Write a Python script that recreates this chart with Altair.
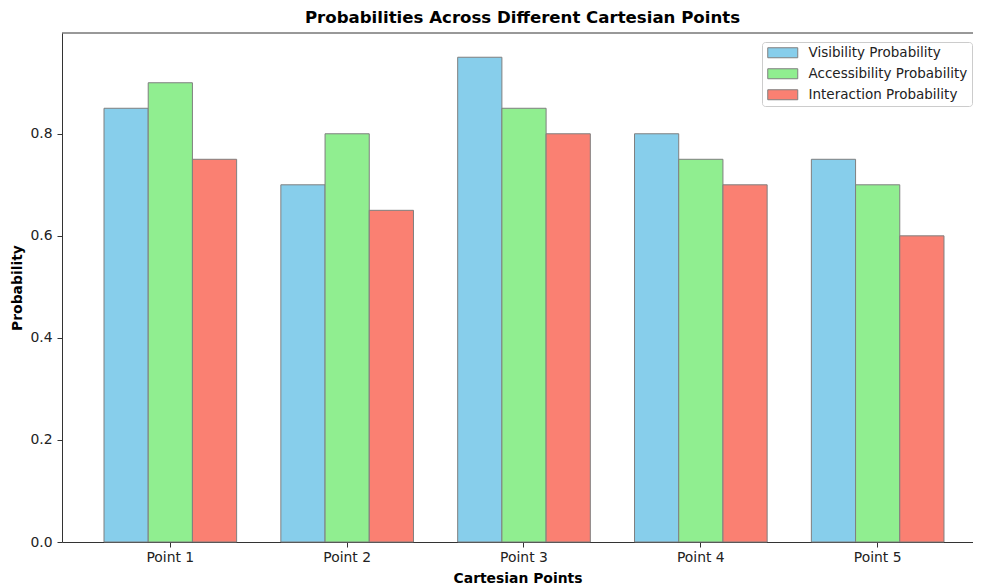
import altair as alt
import pandas as pd

points = ["Point 1", "Point 2", "Point 3", "Point 4", "Point 5"]
series = ["Visibility Probability", "Accessibility Probability", "Interaction Probability"]
visibility = [0.85, 0.70, 0.95, 0.80, 0.75]
accessibility = [0.90, 0.80, 0.85, 0.75, 0.70]
interaction = [0.75, 0.65, 0.80, 0.70, 0.60]
colors = ["#87CEEB", "#90EE90", "#FA8072"]
y_ticks = [0.0, 0.2, 0.4, 0.6, 0.8]

rows = []
for name, vals in zip(series, [visibility, accessibility, interaction]):
    for p, v in zip(points, vals):
        rows.append({"point": p, "series": name, "value": v})
df = pd.DataFrame(rows)

W, H = 911, 509
FONT = "DejaVu Sans"
LBL = 13.9

bars = alt.Chart(df).mark_bar(stroke="#7f7f7f", strokeWidth=1, opacity=1).encode(
    x=alt.X(
        "point:N",
        sort=points,
        scale=alt.Scale(paddingInner=0.25, paddingOuter=0.2008, align=0.5915),
        axis=alt.Axis(
            title="Cartesian Points", labelAngle=0, labelFont=FONT, labelFontSize=LBL,
            labelColor="#222", tickSize=5, tickColor="#333", domainColor="#333",
            labelPadding=3, titleFont=FONT, titleFontSize=LBL, titleFontWeight="bold",
            titleColor="black", titlePadding=8, grid=False,
        ),
    ),
    xOffset=alt.XOffset("series:N", sort=series, scale=alt.Scale(paddingInner=0, paddingOuter=0)),
    y=alt.Y(
        "value:Q",
        scale=alt.Scale(domain=[0, 0.9975], nice=False, zero=True),
        axis=alt.Axis(
            values=y_ticks, format=".1f", title="Probability", grid=False,
            labelFont=FONT, labelFontSize=LBL, labelColor="#222", tickSize=5,
            tickColor="#333", domainColor="#333", labelPadding=5,
            titleFont=FONT, titleFontSize=LBL, titleFontWeight="bold",
            titleColor="black", titlePadding=5,
        ),
    ),
    color=alt.Color(
        "series:N",
        sort=series,
        scale=alt.Scale(domain=series, range=colors),
        legend=alt.Legend(
            title=None, orient="none", legendX=700, legendY=9, labelFont=FONT,
            labelFontSize=13.5, labelColor="#222", labelLimit=0,
            symbolType="M-3,-1H3V1H-3Z", symbolSize=100, symbolOffset=10,
            symbolStrokeColor="#7f7f7f", symbolStrokeWidth=1, symbolOpacity=1,
            labelOffset=19, rowPadding=6, padding=4, fillColor="white",
            strokeColor="#cccccc", cornerRadius=3,
        ),
    ),
)

top = alt.Chart(pd.DataFrame({"a": [0]})).mark_rule(color="#333", strokeWidth=1).encode(
    x=alt.value(0), x2=alt.value(W), y=alt.value(0)
)

chart = alt.layer(bars, top).properties(
    width=W,
    height=H,
    title=alt.TitleParams(
        "Probabilities Across Different Cartesian Points", fontSize=16.6,
        fontWeight="bold", font=FONT, anchor="middle", offset=6, dx=5, color="black",
    ),
    autosize=alt.AutoSizeParams(type="none"),
    padding={"left": 54, "top": 25, "right": 0, "bottom": 46},
).configure_view(stroke=None)

chart.save("out.html", embed_options={"renderer": "svg", "actions": False})
